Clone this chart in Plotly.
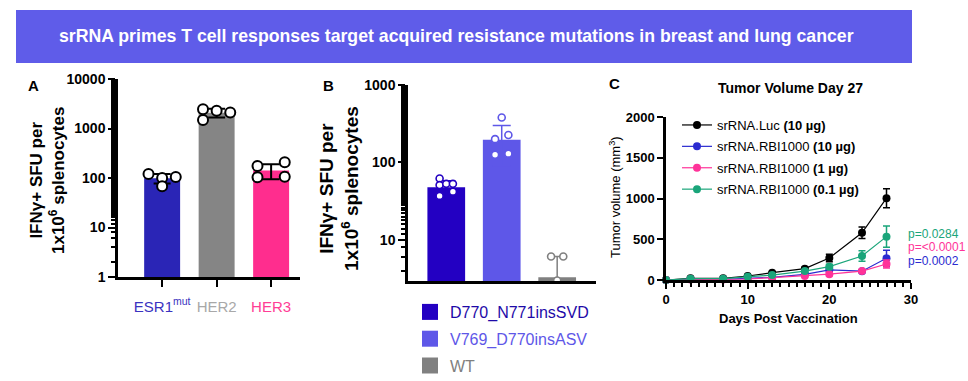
import plotly.graph_objects as go

W, H = 968, 381

# ---------------- data ----------------
# Panel A
a_categories = ["ESR1<sup>mut</sup>", "HER2", "HER3"]
a_means = [99, 2080, 142]
a_sd = [22, 420, 48]
a_points = [[120, 100, 68, 105], [2450, 2290, 2100, 1490], [174, 209, 103, 106]]
a_yticks = [1, 10, 100, 1000, 10000]
a_yticktext = ["1", "10", "100", "1000", "10000"]

# Panel B
b_categories = ["D770_N771insSVD", "V769_D770insASV", "WT"]
b_means = [48, 196, 3.3]
b_sd = [10, 105, 2.8]
b_points = [[62, 51, 53, 53, 37, 42], [380, 226, 200, 126, 130], [6.1, 6.1, 3.0]]
b_yticks = [10, 100, 1000]
b_yticktext = ["10", "100", "1000"]

# Panel C
c_days = [0, 3, 7, 10, 13, 17, 20, 24, 27]
c_names = ["srRNA.Luc", "srRNA.RBI1000", "srRNA.RBI1000", "srRNA.RBI1000"]
c_doses = ["(10 µg)", "(10 µg)", "(1 µg)", "(0.1 µg)"]
c_luc = [0, 20, 20, 49, 90, 139, 270, 580, 1004]
c_luc_err = [0, 6, 6, 8, 12, 18, 45, 70, 117]
c_rbi10 = [0, 8, 8, 16, 33, 70, 125, 108, 266]
c_rbi10_err = [0, 3, 3, 4, 8, 12, 30, 15, 100]
c_rbi1 = [0, 6, 6, 12, 29, 49, 72, 110, 196]
c_rbi1_err = [0, 2, 3, 4, 6, 10, 20, 15, 48]
c_rbi01 = [0, 16, 16, 41, 61, 110, 164, 295, 532]
c_rbi01_err = [0, 4, 4, 6, 10, 15, 30, 65, 130]
c_pvalues = ["p=0.0284", "p=<0.0001", "p=0.0002"]

# ---------------- styles ----------------
FONT = "Liberation Sans, Arial, sans-serif"
a_bar_colors = ["#2a25b6", "#858585", "#ff2d8e"]
a_label_colors = ["#3a33c0", "#a8a8a8", "#ff3d96"]
b_bar_colors = ["#2300c2", "#5e57e8", "#808080"]
b_text_colors = ["#1e0aa8", "#5e57e8", "#808080"]
c_colors = ["#000000", "#2b2bd0", "#ff3399", "#1aa57a"]
p_colors = ["#1aa57a", "#ff3399", "#2b2bd0"]
a_offsets = [[-0.25, 0, 0, 0.25], [-0.25, 0, 0.25, -0.25], [-0.25, 0.25, -0.25, 0.25]]
b_offsets = [[-0.12, -0.12, 0, 0.12, -0.12, 0.12], [0, 0.12, -0.12, -0.12, 0.12], [-0.11, 0.11, 0]]


def px(x):
    return x / W


def py(y):
    return 1 - y / H


fig = go.Figure()

# ---- Panel A ----
fig.add_trace(go.Bar(
    x=list(range(len(a_means))), y=a_means, width=0.66,
    marker=dict(color=a_bar_colors, line=dict(width=0)),
    error_y=dict(type="data", array=a_sd, color="black", thickness=2, width=8.5),
    xaxis="x", yaxis="y", showlegend=False))
for i, pts in enumerate(a_points):
    fig.add_trace(go.Scatter(
        x=[i + o for o in a_offsets[i]], y=pts, mode="markers",
        marker=dict(symbol="circle", size=10, color="white", line=dict(color="black", width=2)),
        xaxis="x", yaxis="y", showlegend=False, cliponaxis=False))

# ---- Panel B ----
for i, cat in enumerate(b_categories):
    fig.add_trace(go.Bar(
        x=[i], y=[b_means[i]], width=0.68,
        marker=dict(color=b_bar_colors[i], line=dict(width=0)),
        error_y=dict(type="data", array=[b_sd[i]], color=b_bar_colors[i], thickness=1.5, width=9),
        name=cat, legendgroup=f"b{i}",
        xaxis="x2", yaxis="y2", showlegend=False))
    # legend entry with a larger square swatch
    fig.add_trace(go.Scatter(
        x=[None], y=[None], mode="markers",
        marker=dict(symbol="square", size=16, color=b_bar_colors[i], line=dict(width=0)),
        name=f'<span style="color:{b_text_colors[i]}">{cat}</span>', legendgroup=f"b{i}",
        xaxis="x2", yaxis="y2", showlegend=True, legend="legend"))
for i, pts in enumerate(b_points):
    fig.add_trace(go.Scatter(
        x=[i + o for o in b_offsets[i]], y=pts, mode="markers",
        marker=dict(symbol="circle", size=7, color="white", line=dict(color=b_bar_colors[i], width=1.6)),
        xaxis="x2", yaxis="y2", showlegend=False, cliponaxis=True))

# ---- Panel C ----
c_values = [c_luc, c_rbi10, c_rbi1, c_rbi01]
c_errors = [c_luc_err, c_rbi10_err, c_rbi1_err, c_rbi01_err]
for k in range(len(c_values)):
    fig.add_trace(go.Scatter(
        x=c_days, y=c_values[k], mode="lines+markers",
        line=dict(color=c_colors[k], width=1.2),
        marker=dict(size=8, color=c_colors[k]),
        error_y=dict(type="data", array=c_errors[k], color=c_colors[k], thickness=1.5, width=3.5),
        name=f"{c_names[k]} <b>{c_doses[k]}</b>",
        legendgroup=f"c{k}",
        xaxis="x3", yaxis="y3", legend="legend2", cliponaxis=False))

axis_common = dict(showline=True, linecolor="black", linewidth=2.5, showgrid=False, zeroline=False,
                   ticks="outside", tickcolor="black", tickwidth=2)

fig.update_layout(
    width=W, height=H, margin=dict(l=0, r=0, t=0, b=0, autoexpand=False),
    paper_bgcolor="white", plot_bgcolor="rgba(0,0,0,0)",
    font=dict(family=FONT, color="black"),
    barmode="overlay",
    xaxis=dict(domain=[px(118), px(300)], range=[-0.81, 2.53], anchor="y",
               tickvals=list(range(len(a_categories))),
               ticktext=[f'<span style="color:{c}">{t}</span>' for t, c in zip(a_categories, a_label_colors)],
               ticklen=7, tickfont=dict(size=15, family=FONT), ticklabelstandoff=7, **axis_common),
    yaxis=dict(domain=[py(277), py(79)], type="log", range=[0, 4], anchor="x",
               tickvals=a_yticks, ticktext=a_yticktext, ticklen=7,
               tickfont=dict(size=14, family=FONT, weight="bold"),
               minor=dict(ticks="outside", ticklen=4, tickwidth=1.5, tickcolor="black", showgrid=False),
               **axis_common),
    xaxis2=dict(domain=[px(408), px(596)], range=[-0.69, 2.7], anchor="y2",
                showticklabels=False, showline=True, linecolor="black", linewidth=2.5,
                showgrid=False, zeroline=False, ticks=""),
    yaxis2=dict(domain=[py(281), py(85)], type="log", range=[0.47, 3], anchor="x2",
                tickvals=b_yticks, ticktext=b_yticktext, ticklen=7,
                tickfont=dict(size=14, family=FONT, weight="bold"),
                minor=dict(ticks="outside", ticklen=4, tickwidth=1.5, tickcolor="black", showgrid=False),
                **axis_common),
    xaxis3=dict(domain=[px(666), px(911)], range=[0, 30], anchor="y3",
                tickvals=[0, 10, 20, 30], ticklen=6,
                tickfont=dict(size=13, family=FONT, weight="bold"),
                minor=dict(ticks="outside", ticklen=4, tickwidth=1.5, tickcolor="black", dtick=1, showgrid=False),
                **axis_common),
    yaxis3=dict(domain=[py(280), py(117)], range=[0, 2000], anchor="x3",
                tickvals=[0, 500, 1000, 1500, 2000], ticklen=6,
                tickfont=dict(size=13, family=FONT, weight="bold"),
                **axis_common),
    legend=dict(x=px(410), y=py(295), xanchor="left", yanchor="top", tracegroupgap=3,
                font=dict(size=16, family=FONT), bgcolor="rgba(0,0,0,0)", itemwidth=30,
                itemsizing="trace"),
    legend2=dict(x=px(677), y=py(110), xanchor="left", yanchor="top", tracegroupgap=1.5,
                 font=dict(size=13, family=FONT), bgcolor="rgba(0,0,0,0)", itemwidth=30),
)

# banner
fig.add_shape(type="rect", xref="paper", yref="paper", x0=px(16), x1=px(912), y0=py(63), y1=py(10),
              fillcolor="#5f5ce9", line=dict(width=0), layer="below")

ann = []
ann.append(dict(text="<b>srRNA primes T cell responses target acquired resistance mutations in breast and lung cancer</b>",
                x=px(456), y=py(36), font=dict(size=17.7, color="white", family=FONT)))
ann.append(dict(text="<b>A</b>", x=px(33), y=py(86), font=dict(size=15)))
ann.append(dict(text="<b>B</b>", x=px(328), y=py(85), font=dict(size=15)))
ann.append(dict(text="<b>C</b>", x=px(614), y=py(83), font=dict(size=15)))
ann.append(dict(text="<b>IFNγ+ SFU per<br>1x10<sup>6</sup> splenocytes</b>", x=px(47), y=py(181),
                textangle=-90, font=dict(size=17)))
ann.append(dict(text="<b>IFNγ+ SFU per<br>1x10<sup>6</sup> splenocytes</b>", x=px(339), y=py(189),
                textangle=-90, font=dict(size=19)))
ann.append(dict(text="<b>Tumor Volume Day 27</b>", x=px(790), y=py(88), font=dict(size=14)))
ann.append(dict(text="Tumor volume (mm<sup>3</sup>)", x=px(615), y=py(197), textangle=-90, font=dict(size=13)))
ann.append(dict(text="<b>Days Post Vaccination</b>", x=px(788), y=py(318), font=dict(size=13)))
for j, (t, c) in enumerate(zip(c_pvalues, p_colors)):
    ann.append(dict(text=t, x=px(906), y=py(234 + 13.5 * j), xanchor="left", font=dict(size=12, color=c)))
for a in ann:
    a.setdefault("xref", "paper")
    a.setdefault("yref", "paper")
    a.setdefault("showarrow", False)
    a.setdefault("xanchor", "center")
    a.setdefault("yanchor", "middle")
    a["font"].setdefault("family", FONT)
    a["font"].setdefault("color", "black")
fig.update_layout(annotations=ann)

fig.write_html("out.html", config={"displayModeBar": False},
               post_script="document.body.style.margin='0';document.body.style.overflow='hidden';")
